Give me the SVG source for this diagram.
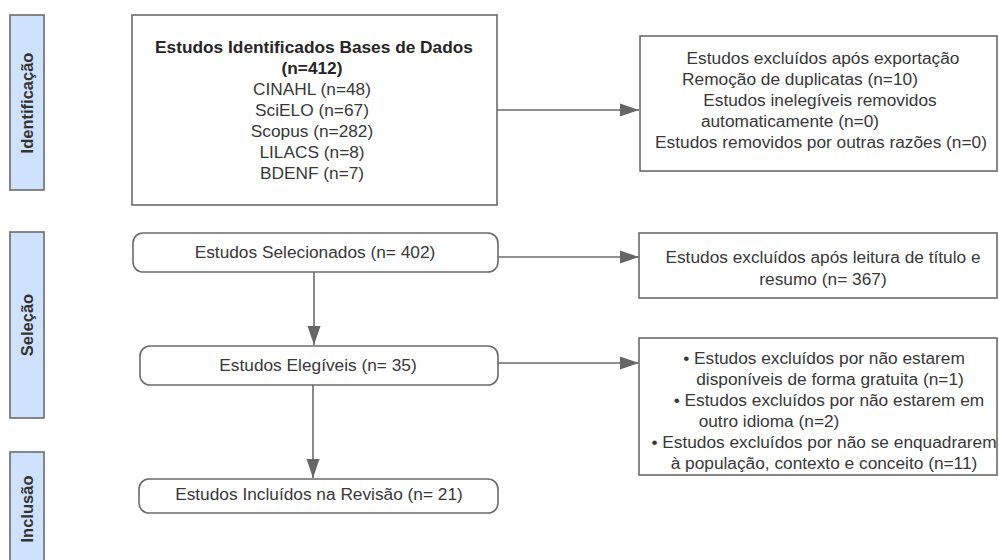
<svg xmlns="http://www.w3.org/2000/svg" width="999" height="560" viewBox="0 0 999 560">
<defs>
<style>
.box{fill:#ffffff;stroke:#6b6b6b;stroke-width:1.6}
.phase{fill:#cfe2fd;stroke:#6b6b6b;stroke-width:1.6}
.t{font-family:"Liberation Sans",Arial,sans-serif;font-size:17.3px;fill:#383838;text-anchor:middle}
.b{font-weight:bold;fill:#262626}
.pt{font-family:"Liberation Sans",Arial,sans-serif;font-size:16.5px;font-weight:bold;fill:#333333;text-anchor:middle}
.c{fill:none;stroke:#6b6b6b;stroke-width:1.6}
</style>
<marker id="ah" markerUnits="userSpaceOnUse" markerWidth="20" markerHeight="14" refX="19" refY="7" orient="auto">
<path d="M0,0.5 L19,7 L0,13.5 z" fill="#666666"/>
</marker>
</defs>

<g id="phase-identificacao">
<rect class="phase" x="10" y="15" width="34" height="175"/>
<text class="pt" transform="translate(33,103) rotate(-90)">Identificação</text>
</g>
<g id="phase-selecao">
<rect class="phase" x="10" y="232" width="34" height="186"/>
<text class="pt" transform="translate(33,325) rotate(-90)">Seleção</text>
</g>
<g id="phase-inclusao">
<rect class="phase" x="10" y="452" width="34" height="112"/>
<text class="pt" transform="translate(33,509) rotate(-90)">Inclusão</text>
</g>

<g id="connectors">
<path class="c" d="M497,110 L639,110" marker-end="url(#ah)"/>
<path class="c" d="M498,257 L639,257" marker-end="url(#ah)"/>
<path class="c" d="M498,363 L639,363" marker-end="url(#ah)"/>
<path class="c" d="M314,272 L314,345" marker-end="url(#ah)"/>
<path class="c" d="M313,385 L313,478" marker-end="url(#ah)"/>
</g>

<g id="identificados">
<rect class="box" x="132" y="15" width="365" height="190"/>
<text class="t b" x="314" y="53">Estudos Identificados Bases de Dados</text>
<text class="t b" x="312" y="74">(n=412)</text>
<text class="t" x="312" y="95">CINAHL (n=48)</text>
<text class="t" x="312" y="116">SciELO (n=67)</text>
<text class="t" x="312" y="137">Scopus (n=282)</text>
<text class="t" x="312" y="158">LILACS (n=8)</text>
<text class="t" x="312" y="179">BDENF (n=7)</text>
</g>

<g id="excluidos-exportacao">
<rect class="box" x="640" y="36" width="357" height="135"/>
<text class="t" x="823" y="64">Estudos excluídos após exportação</text>
<text class="t" x="800" y="85">Remoção de duplicatas (n=10)</text>
<text class="t" x="820" y="106">Estudos inelegíveis removidos</text>
<text class="t" x="790" y="127">automaticamente (n=0)</text>
<text class="t" x="821" y="148">Estudos removidos por outras razões (n=0)</text>
</g>

<g id="selecionados">
<rect class="box" x="133" y="233" width="365" height="39" rx="10"/>
<text class="t" x="315" y="257.5">Estudos Selecionados (n= 402)</text>
</g>

<g id="excluidos-titulo">
<rect class="box" x="639" y="233" width="358" height="65"/>
<text class="t" x="823" y="263">Estudos excluídos após leitura de título e</text>
<text class="t" x="823" y="285">resumo (n= 367)</text>
</g>

<g id="elegiveis">
<rect class="box" x="140" y="346" width="358" height="39" rx="10"/>
<text class="t" x="318" y="371">Estudos Elegíveis (n= 35)</text>
</g>

<g id="excluidos-elegibilidade">
<rect class="box" x="639" y="338" width="358" height="137"/>
<text class="t" x="824" y="364">• Estudos excluídos por não estarem</text>
<text class="t" x="830" y="385">disponíveis de forma gratuita (n=1)</text>
<text class="t" x="829" y="406">• Estudos excluídos por não estarem em</text>
<text class="t" x="769" y="427">outro idioma (n=2)</text>
<text class="t" x="824" y="448">• Estudos excluídos por não se enquadrarem</text>
<text class="t" x="824" y="469">à população, contexto e conceito (n=11)</text>
</g>

<g id="incluidos">
<rect class="box" x="139" y="479" width="359" height="34" rx="10"/>
<text class="t" x="319" y="500">Estudos Incluídos na Revisão (n= 21)</text>
</g>
</svg>
